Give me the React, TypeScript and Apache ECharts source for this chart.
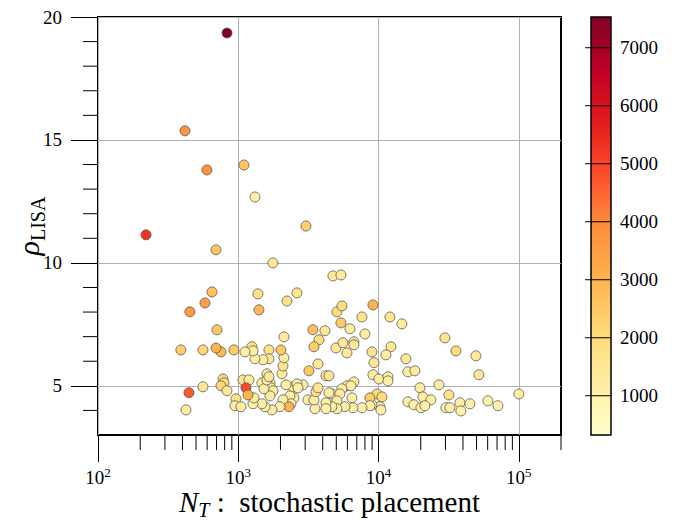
import React, { useEffect, useRef } from 'react';
import * as echarts from 'echarts';

// N_T (stochastic placement), rho_LISA, colour value
const nT = [
  831, 417, 598, 1098, 1315, 3038, 220, 694, 1767, 4732,
  5395, 649, 1381, 2620, 579, 452, 2224, 1404, 5052, 5484,
  9124, 7616, 12060, 14680, 5395, 6255, 705, 3407, 4150, 8000,
  2117, 29740, 3761, 3464, 4970, 5577, 6678, 6678, 5954, 8974,
  12260, 35620, 11290, 15680, 49450, 9273, 3700, 3190, 16200, 18170,
  51950, 4218, 4431, 9124, 10070, 11670, 11670, 6678, 19730, 26950,
  31760, 20720, 23640, 16200, 17880, 20060, 21410, 30230, 32280, 38030,
  38660, 44820, 60220, 70970, 100200, 9741, 10570, 10230, 10400, 8974,
  5954, 6358, 5484, 4654, 4431, 5307, 6464, 8683, 8683, 7616,
  6570, 5761, 5052, 5052, 4654, 4218, 4218, 3521, 3139, 3464,
  3579, 3700, 2892, 2455, 2620, 2495, 2188, 2665, 2336, 2375,
  2083, 2298, 1983, 1739, 1550, 1475, 1273, 1294, 1475, 1683,
  1711, 1767, 1683, 1525, 1602, 1602, 1655, 2048, 2083, 2117,
  2015, 1655, 1655, 1500, 1315, 1252, 1273, 1116, 931, 753,
  694, 560, 390, 778, 791, 753, 831, 560, 1080, 1192,
  1135, 1173, 445, 424, 963, 947, 1045,
];

const rho = [
  19.35, 15.37, 13.78, 13.98, 12.68, 11.5, 11.14, 10.53, 10.0, 9.47,
  9.51, 8.82, 8.74, 8.78, 8.37, 8.01, 8.45, 8.09, 8.01, 8.25,
  8.29, 7.8, 7.8, 7.52, 7.56, 7.32, 7.28, 7.28, 7.24, 7.11,
  6.99, 6.95, 6.87, 6.59, 6.54, 6.75, 6.79, 6.67, 6.34, 6.38,
  6.59, 6.42, 6.26, 6.1, 6.22, 5.94, 5.89, 5.61, 5.57, 5.61,
  5.45, 5.41, 5.41, 5.45, 5.28, 5.37, 5.2, 5.16, 4.92, 5.04,
  4.63, 4.55, 4.43, 4.35, 4.23, 4.11, 4.19, 4.11, 4.11, 4.31,
  3.98, 4.27, 4.39, 4.19, 4.67, 4.67, 4.55, 4.15, 4.02, 4.23,
  5.0, 5.0, 4.88, 4.67, 4.72, 4.67, 4.51, 4.51, 4.19, 4.11,
  4.11, 4.15, 4.39, 4.07, 4.15, 4.31, 4.07, 4.07, 4.43, 4.43,
  4.76, 4.92, 5.04, 4.96, 5.08, 4.51, 5.04, 4.92, 4.59, 4.27,
  4.43, 4.15, 4.15, 4.02, 4.15, 4.27, 4.27, 4.51, 5.12, 5.12,
  4.92, 4.8, 4.59, 4.88, 5.49, 5.24, 5.37, 5.49, 5.81, 6.14,
  6.46, 6.46, 6.1, 6.06, 6.1, 6.59, 6.42, 6.38, 6.46, 6.38,
  6.54, 6.46, 6.46, 5.28, 5.12, 5.0, 4.8, 4.96, 5.24, 5.24,
  4.92, 4.63, 4.72, 4.02, 4.47, 4.19, 4.15,
];

const colourValue = [
  7530, 3700, 3800, 2600, 1200, 2300, 5300, 2500, 1500, 1400,
  1400, 2700, 1700, 1600, 3500, 3600, 1800, 2900, 2000, 2000,
  3000, 1600, 1600, 1300, 2500, 1200, 2500, 2700, 1500, 1200,
  1300, 1600, 1900, 2400, 1500, 1500, 1300, 1300, 1400, 1700,
  1500, 2000, 1300, 1500, 1400, 1500, 1500, 2500, 1200, 1300,
  1400, 1600, 1600, 1300, 1200, 1200, 1100, 1200, 1300, 1300,
  1800, 1200, 1100, 1100, 1000, 1000, 1100, 1000, 1100, 1100,
  1000, 1000, 1000, 1000, 1100, 1900, 2000, 1100, 1100, 1100,
  1200, 1200, 1200, 1300, 1100, 1300, 1100, 2400, 1100, 1000,
  1000, 1100, 1200, 1000, 1100, 1200, 1000, 1000, 1100, 1100,
  1700, 1600, 1100, 1200, 1100, 1200, 1200, 1100, 1300, 1100,
  1200, 3000, 1000, 1100, 1000, 1100, 1100, 1200, 1200, 1300,
  1200, 1300, 1100, 1200, 1300, 1200, 1400, 1500, 1500, 1300,
  2500, 1800, 1400, 1200, 1100, 1900, 1300, 1200, 2400, 2900,
  3000, 2200, 2400, 2100, 1900, 2200, 1400, 1500, 1600, 1300,
  4900, 3000, 4700, 1100, 1600, 1300, 1200,
];

const xMajorTicks = [100, 1000, 10000, 100000];
const xMinorTicks = [
  200, 300, 400, 500, 600, 700, 800, 900,
  2000, 3000, 4000, 5000, 6000, 7000, 8000, 9000,
  20000, 30000, 40000, 50000, 60000, 70000, 80000, 90000,
  200000,
];
const yMajorTicks = [5, 10, 15, 20];
const yMinorTicks = [4, 6, 7, 8, 9, 11, 12, 13, 14, 16, 17, 18, 19];
const colourTicks = [1000, 2000, 3000, 4000, 5000, 6000, 7000];
const colourMin = 323;
const colourMax = 7530;
const ylOrRd = ['#ffffcc', '#ffeda0', '#fed976', '#feb24c', '#fd8d3c', '#fc4e2a', '#e31a1c', '#bd0026', '#800026'];

const FONT = "'Liberation Serif', 'DejaVu Serif', serif";

export default function App() {
  const ref = useRef<HTMLDivElement>(null);
  useEffect(() => {
    const chart = echarts.init(ref.current!, null, { renderer: 'svg' });
    const points = nT.map((n, i) => [n, rho[i], colourValue[i]]);
    const gradient = new echarts.graphic.LinearGradient(
      0, 1, 0, 0,
      ylOrRd.map((c, i) => ({ offset: i / (ylOrRd.length - 1), color: c }))
    );
    const option: any = {
      animation: false,
      backgroundColor: '#fff',
      textStyle: { fontFamily: FONT },
      grid: [
        { left: 98, top: 17, width: 463, height: 418, outerBoundsMode: 'none', containLabel: false, show: true, borderColor: '#000', borderWidth: 2, backgroundColor: 'transparent' },
        { left: 591, top: 17, width: 20, height: 418, outerBoundsMode: 'none', containLabel: false, show: true, borderColor: '#000', borderWidth: 1.5, backgroundColor: 'transparent', z: 10 },
      ],
      graphic: [
        { type: 'rect', left: 591, top: 17, z: 1, shape: { width: 20, height: 418 }, style: { fill: gradient }, silent: true },
      ],
      xAxis: [
        {
          type: 'log', logBase: 10, min: 100, max: 200000, gridIndex: 0,
          axisLine: { show: false },
          axisTick: { show: true, inside: false, length: 27, customValues: xMajorTicks, lineStyle: { color: '#000', width: 1 } },
          axisLabel: {
            customValues: xMajorTicks, margin: 33,
            formatter: (v: number) => `{b|10}{s|${Math.round(Math.log10(v))}}`,
            rich: {
              b: { fontSize: 19, fontFamily: FONT, color: '#000', verticalAlign: 'bottom', lineHeight: 19 },
              s: { fontSize: 13, fontFamily: FONT, color: '#000', verticalAlign: 'bottom', lineHeight: 13, padding: [0, 0, 8, 0] },
            },
          },
          splitLine: { show: true, lineStyle: { color: '#b0b0b0', width: 1 } },
          name: '{n|N}{t|T}{c| :  stochastic placement}',
          nameLocation: 'middle', nameGap: 61, nameMoveOverlap: false,
          nameTextStyle: {
            rich: {
              n: { fontSize: 29, fontFamily: FONT, fontStyle: 'italic', color: '#000', verticalAlign: 'bottom', lineHeight: 24, padding: [0, 0, 4, 0] },
              t: { fontSize: 20, fontFamily: FONT, fontStyle: 'italic', color: '#000', verticalAlign: 'bottom', lineHeight: 17 },
              c: { fontSize: 29, fontFamily: FONT, color: '#000', verticalAlign: 'bottom', lineHeight: 24, padding: [0, 0, 4, 0] },
            },
          },
        },
        { type: 'value', gridIndex: 1, show: false, min: 0, max: 1 },
      ],
      yAxis: [
        {
          type: 'value', min: 3, max: 20, gridIndex: 0,
          axisLine: { show: false },
          axisTick: { show: true, inside: false, length: 27, customValues: yMajorTicks, lineStyle: { color: '#000', width: 1 } },
          axisLabel: { customValues: yMajorTicks, margin: 36, fontSize: 19, fontFamily: FONT, color: '#000' },
          splitLine: { show: true, lineStyle: { color: '#b0b0b0', width: 1 } },
          name: '{r|ρ}{s|LISA}',
          nameLocation: 'middle', nameGap: 50, nameRotate: 90, nameMoveOverlap: false,
          nameTextStyle: {
            rich: {
              r: { fontSize: 30, fontFamily: FONT, fontStyle: 'italic', color: '#000', verticalAlign: 'bottom', padding: [0, 0, 5, 0] },
              s: { fontSize: 20, fontFamily: FONT, color: '#000', verticalAlign: 'bottom' },
            },
          },
        },
        {
          type: 'value', gridIndex: 1, min: colourMin, max: colourMax, position: 'left', z: 10,
          axisLine: { show: false },
          axisTick: { show: false },
          axisLabel: {
            customValues: colourTicks, inside: true, margin: 29, fontSize: 19, fontFamily: FONT, color: '#000',
            formatter: (v: number) => String(v),
          },
          splitLine: { show: false },
        },
      ],
      visualMap: {
        type: 'continuous', show: false, min: colourMin, max: colourMax, dimension: 2, seriesIndex: 0,
        inRange: { color: ylOrRd },
      },
      series: [
        {
          type: 'scatter', xAxisIndex: 0, yAxisIndex: 0, data: points, symbol: 'circle', symbolSize: 10,
          itemStyle: { borderColor: '#555', borderWidth: 0.8, opacity: 1 }, z: 3,
        },
        {
          type: 'custom', xAxisIndex: 0, yAxisIndex: 0, silent: true, z: 4,
          data: xMinorTicks.map((v) => [v, 3]),
          renderItem: (_p: any, api: any) => {
            const p = api.coord([api.value(0), api.value(1)]);
            return { type: 'line', shape: { x1: p[0], y1: p[1], x2: p[0], y2: p[1] + 15 }, style: { stroke: '#000', lineWidth: 1 } };
          },
        },
        {
          type: 'custom', xAxisIndex: 0, yAxisIndex: 0, silent: true, z: 4,
          data: yMinorTicks.map((v) => [100, v]),
          renderItem: (_p: any, api: any) => {
            const p = api.coord([api.value(0), api.value(1)]);
            return { type: 'line', shape: { x1: p[0] - 15, y1: p[1], x2: p[0], y2: p[1] }, style: { stroke: '#000', lineWidth: 1 } };
          },
        },
        {
          type: 'custom', xAxisIndex: 1, yAxisIndex: 1, silent: true, z: 20,
          data: colourTicks.map((v) => [0, v]),
          renderItem: (_p: any, api: any) => {
            const a = api.coord([0, api.value(1)]);
            const b = api.coord([1, api.value(1)]);
            return { type: 'line', shape: { x1: a[0] - 6, y1: a[1], x2: b[0], y2: b[1] }, style: { stroke: '#000', lineWidth: 1 } };
          },
        },
      ],
    };
    chart.setOption(option);
    return () => chart.dispose();
  }, []);
  return <div ref={ref} style={{ position: 'fixed', left: 0, top: 0, width: 686, height: 522 }} />;
}
